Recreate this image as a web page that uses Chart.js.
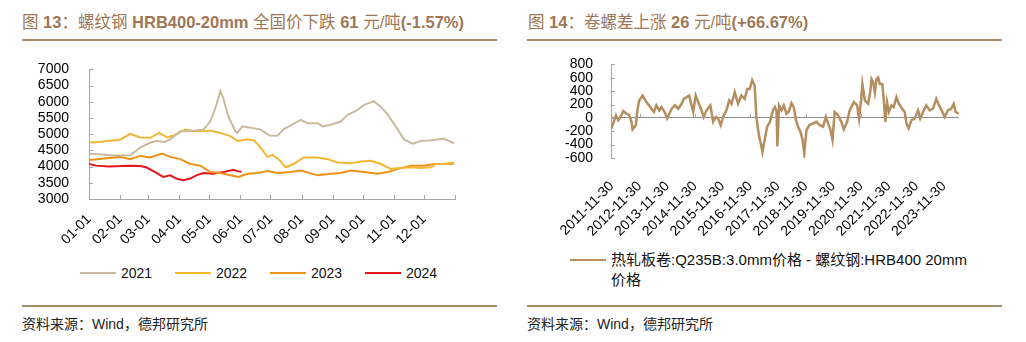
<!DOCTYPE html>
<html>
<head>
<meta charset="utf-8">
<script src="https://cdn.jsdelivr.net/npm/chart.js@4.4.1/dist/chart.umd.min.js"></script>
<style>
body{margin:0;width:1026px;height:342px;background:#fff;position:relative;overflow:hidden;
  font-family:"Liberation Sans",Arial,"Noto Sans CJK SC",sans-serif}
.title{position:absolute;top:9px;font-size:16.5px;color:#9e7756;white-space:nowrap}
.rule{position:absolute;height:2px;background:#a98b6e}
.src{position:absolute;top:313px;font-size:14px;color:#222;white-space:nowrap}
.box{position:absolute}
.lg{position:absolute;font-size:14px;color:#111;line-height:20px;white-space:nowrap}
.lg .ln{position:absolute;left:0;top:9px;width:36px;height:2px}
.lg .tx{position:absolute;left:41px;top:0}
#lg2{left:570px;top:250px;font-size:15px}
</style>
</head>
<body>
<div class="title" style="left:22px">图 <b>13</b>：螺纹钢 <b>HRB400-20mm</b> 全国价下跌 <b>61</b> 元/吨<b>(-1.57%)</b></div>
<div class="rule" style="left:22px;top:39px;width:475px"></div>
<div class="box" style="left:22px;top:49px;width:476px;height:194px"><canvas id="c1"></canvas></div>
<div id="lg1"></div>
<div class="rule" style="left:22px;top:305px;width:475px"></div>
<div class="src" style="left:22px">资料来源：Wind，德邦研究所</div>

<div class="title" style="left:528px">图 <b>14</b>：卷螺差上涨 <b>26</b> 元/吨<b>(+66.67%)</b></div>
<div class="rule" style="left:527px;top:39px;width:475px"></div>
<div class="box" style="left:527px;top:38px;width:478px;height:204px"><canvas id="c2"></canvas></div>
<div id="lg2" class="lg"><div class="ln" style="background:#b48e5e"></div><div class="tx">热轧板卷:Q235B:3.0mm价格 - 螺纹钢:HRB400 20mm<br>价格</div></div>
<div class="rule" style="left:527px;top:305px;width:475px"></div>
<div class="src" style="left:527px">资料来源：Wind，德邦研究所</div>

<script>
// Left chart data: day of year -> price (yuan/t)
const monthLabels = ['01-01', '02-01', '03-01', '04-01', '05-01', '06-01', '07-01', '08-01', '09-01', '10-01', '11-01', '12-01'];
const monthDays = [0, 31, 59, 90, 120, 151, 181, 212, 243, 273, 304, 334, 365];

const days2021 = [0, 10, 24, 41, 51, 61, 67, 75, 81, 91, 101, 110, 114, 121, 126, 131, 134, 139, 146, 148, 153, 161, 171, 180, 188, 194, 203, 211, 218, 228, 233, 241, 251, 258, 268, 274, 284, 291, 298, 308, 314, 323, 331, 341, 354, 364];
const price2021 = [4400, 4380, 4340, 4350, 4585, 4737, 4790, 4760, 4840, 5090, 5090, 5130, 5140, 5390, 5800, 6330, 6100, 5545, 5090, 5040, 5240, 5200, 5150, 4960, 4950, 5150, 5300, 5440, 5340, 5340, 5240, 5290, 5390, 5600, 5750, 5900, 6020, 5850, 5600, 5140, 4840, 4710, 4790, 4810, 4860, 4720];

const days2022 = [0, 10, 20, 31, 41, 51, 61, 70, 78, 86, 96, 105, 121, 131, 141, 148, 158, 165, 172, 178, 183, 189, 196, 204, 214, 228, 238, 248, 261, 271, 281, 291, 301, 311, 321, 331, 341, 346, 354, 364];
const price2022 = [4740, 4760, 4800, 4830, 5010, 4900, 4890, 5040, 4900, 4980, 5140, 5090, 5110, 5040, 4940, 4790, 4840, 4800, 4550, 4300, 4360, 4230, 3980, 4080, 4280, 4280, 4230, 4130, 4100, 4160, 4180, 4080, 3930, 3960, 3980, 3960, 3980, 4080, 4080, 4130];

const days2023 = [0, 18, 31, 41, 51, 61, 73, 81, 91, 101, 111, 121, 131, 141, 149, 158, 168, 178, 188, 201, 211, 228, 241, 251, 261, 274, 288, 298, 308, 321, 334, 344, 354, 364];
const price2023 = [4200, 4260, 4300, 4230, 4330, 4280, 4400, 4300, 4230, 4080, 4030, 3830, 3800, 3730, 3680, 3780, 3800, 3860, 3800, 3830, 3880, 3730, 3780, 3800, 3880, 3830, 3780, 3830, 3930, 4030, 4030, 4080, 4080, 4090];

const days2024 = [0, 7, 20, 41, 51, 57, 66, 74, 81, 87, 94, 101, 107, 114, 124, 134, 144, 148, 152];
const price2024 = [4080, 4030, 4000, 4030, 4020, 3980, 3830, 3680, 3730, 3630, 3580, 3630, 3730, 3800, 3780, 3830, 3900, 3860, 3840];

const yearNames = ['2021', '2022', '2023', '2024'];
const yearColors = ['#cbbb9e', '#f5b534', '#ee9216', '#e3151d'];

// Right chart data: decimal year -> HRC minus rebar spread (yuan/t)
const yearLabels = ['2011-11-30', '2012-11-30', '2013-11-30', '2014-11-30', '2015-11-30', '2016-11-30', '2017-11-30', '2018-11-30', '2019-11-30', '2020-11-30', '2021-11-30', '2022-11-30', '2023-11-30'];
const yearTicks = [2011.912, 2012.912, 2013.912, 2014.912, 2015.912, 2016.912, 2017.912, 2018.912, 2019.912, 2020.912, 2021.912, 2022.912, 2023.912];
const spreadX = [2011.90, 2011.96, 2012.06, 2012.14, 2012.26, 2012.32, 2012.44, 2012.54, 2012.62, 2012.66, 2012.78, 2012.83, 2012.90, 2013.02, 2013.16, 2013.34, 2013.43, 2013.52, 2013.62, 2013.70, 2013.82, 2013.91, 2014.07, 2014.19, 2014.31, 2014.43, 2014.51, 2014.61, 2014.70, 2014.79, 2014.85, 2014.94, 2015.03, 2015.15, 2015.23, 2015.33, 2015.47, 2015.57, 2015.67, 2015.75, 2015.84, 2015.93, 2016.05, 2016.15, 2016.23, 2016.35, 2016.47, 2016.59, 2016.71, 2016.80, 2016.89, 2016.98, 2017.07, 2017.13, 2017.23, 2017.29, 2017.35, 2017.43, 2017.52, 2017.62, 2017.73, 2017.80, 2017.86, 2017.89, 2017.95, 2018.04, 2018.12, 2018.22, 2018.31, 2018.40, 2018.48, 2018.56, 2018.64, 2018.72, 2018.80, 2018.86, 2018.94, 2019.04, 2019.18, 2019.30, 2019.42, 2019.54, 2019.64, 2019.72, 2019.81, 2019.88, 2019.96, 2020.08, 2020.20, 2020.29, 2020.41, 2020.50, 2020.65, 2020.77, 2020.84, 2020.92, 2020.96, 2021.05, 2021.17, 2021.25, 2021.29, 2021.35, 2021.41, 2021.47, 2021.53, 2021.59, 2021.68, 2021.73, 2021.79, 2021.85, 2021.92, 2022.01, 2022.09, 2022.19, 2022.28, 2022.40, 2022.49, 2022.55, 2022.63, 2022.73, 2022.85, 2022.97, 2023.05, 2023.18, 2023.27, 2023.39, 2023.51, 2023.63, 2023.73, 2023.85, 2023.93, 2024.05, 2024.17, 2024.26, 2024.33, 2024.44];
const spreadY = [-157, -83, 39, -34, 39, 103, 64, 39, -59, -172, -108, 113, 260, 334, 236, 137, 88, 187, 113, 162, 88, -10, 137, 187, 137, 211, 285, 309, 334, 187, 88, 334, 236, 113, 15, 113, 187, -59, 15, -10, -108, 15, 113, 260, 211, 383, 211, 334, 285, 432, 432, 565, 481, 15, -280, -378, -510, -329, -133, -59, 113, 162, 100, -427, 187, 113, 187, 64, 100, 221, 162, -34, -133, -206, -329, -535, -182, -108, -83, -59, -108, -133, 15, -83, -182, -329, 88, 39, -59, -172, -59, 113, 236, 187, -10, 285, 506, 260, 211, 408, 579, 530, 383, 579, 604, 506, 506, 285, -59, 236, 88, 187, 162, 309, 211, 137, 88, -83, -157, -34, -10, 113, -10, 113, 187, 113, 137, 285, 187, 88, 15, 113, 137, 211, 88, 64];

Chart.defaults.font.family = '"Liberation Sans", Arial, "Noto Sans CJK SC", sans-serif';
Chart.defaults.font.size = 14;
Chart.defaults.color = '#000';

const axisGray = '#a6a6a6';

// Small tick marks drawn inside the plot area, like the original
const innerTicks = {
    id: 'innerTicks',
    afterDatasetsDraw(chart, args, opts) {
        const {ctx, chartArea, scales: {x, y}} = chart;
        ctx.save();
        ctx.strokeStyle = opts.color;
        ctx.lineWidth = 1;
        ctx.beginPath();
        y.ticks.forEach(t => {
            const py = Math.round(y.getPixelForValue(t.value)) + 0.5;
            ctx.moveTo(chartArea.left, py);
            ctx.lineTo(chartArea.left + opts.len, py);
        });
        const base = opts.xAt === undefined ? chartArea.bottom : y.getPixelForValue(opts.xAt);
        x.ticks.forEach((t, i) => {
            if (opts.oddOnly && i % 2 !== 1) return;
            const px = Math.round(x.getPixelForValue(t.value)) + 0.5;
            ctx.moveTo(px, base);
            ctx.lineTo(px, base - opts.len);
        });
        ctx.stroke();
        ctx.restore();
    }
};

function pairs(xs, ys) {
    return xs.map((v, i) => ({x: v, y: ys[i]}));
}

function lineSet(label, xs, ys, color) {
    return {
        label: label,
        data: pairs(xs, ys),
        borderColor: color,
        backgroundColor: color,
        borderWidth: 2,
        pointRadius: 0,
        tension: 0
    };
}

// Left legend (HTML, one row under the chart)
const lg1 = document.getElementById('lg1');
yearNames.forEach((name, i) => {
    const item = document.createElement('div');
    item.className = 'lg';
    item.style.left = (80 + i * 95) + 'px';
    item.style.top = '263px';
    item.innerHTML = '<div class="ln" style="background:' + yearColors[i] + '"></div><div class="tx">' + name + '</div>';
    lg1.appendChild(item);
});

// Left chart: rebar price by year
new Chart(document.getElementById('c1'), {
    type: 'line',
    data: {
        datasets: [
            lineSet(yearNames[0], days2021, price2021, yearColors[0]),
            lineSet(yearNames[1], days2022, price2022, yearColors[1]),
            lineSet(yearNames[2], days2023, price2023, yearColors[2]),
            lineSet(yearNames[3], days2024, price2024, yearColors[3])
        ]
    },
    options: {
        responsive: true,
        maintainAspectRatio: false,
        animation: false,
        layout: {padding: {top: 10, right: 43, left: 0, bottom: 0}},
        plugins: {
            legend: {display: false},
            tooltip: {enabled: false},
            innerTicks: {color: axisGray, len: 4}
        },
        scales: {
            x: {
                type: 'linear',
                min: 0,
                max: 365,
                afterBuildTicks: s => { s.ticks = monthDays.map(v => ({value: v})); },
                afterFit: s => { s.height = 44; },
                grid: {display: false},
                border: {color: axisGray},
                ticks: {
                    autoSkip: false,
                    minRotation: 45,
                    maxRotation: 45,
                    padding: 4,
                    callback: (v, i) => monthLabels[i] || ''
                }
            },
            y: {
                min: 3000,
                max: 7000,
                afterFit: s => { s.width = 67; },
                grid: {display: false},
                border: {color: axisGray},
                ticks: {stepSize: 500, padding: 12, autoSkip: false, callback: v => String(v)}
            }
        }
    },
    plugins: [innerTicks]
});

// Right chart: HRC - rebar spread
new Chart(document.getElementById('c2'), {
    type: 'line',
    data: {
        datasets: [
            Object.assign(lineSet('热轧板卷:Q235B:3.0mm价格 - 螺纹钢:HRB400 20mm价格', spreadX, spreadY, '#b48e5e'), {borderWidth: 2.5})
        ]
    },
    options: {
        responsive: true,
        maintainAspectRatio: false,
        animation: false,
        layout: {padding: {top: 0, right: 46, left: 0, bottom: 0}},
        plugins: {
            legend: {display: false},
            tooltip: {enabled: false},
            innerTicks: {color: axisGray, len: 4, xAt: 0, oddOnly: true}
        },
        scales: {
            x: {
                type: 'linear',
                min: 2011.88,
                max: 2024.45,
                afterBuildTicks: s => { s.ticks = yearTicks.map(v => ({value: v})); },
                afterFit: s => { s.height = 84; },
                grid: {display: false},
                border: {display: false},
                ticks: {
                    autoSkip: false,
                    minRotation: 45,
                    maxRotation: 45,
                    padding: 12,
                    callback: (v, i) => yearLabels[i] || ''
                }
            },
            y: {
                min: -600,
                max: 800,
                afterFit: s => { s.width = 84; },
                grid: {
                    drawTicks: false,
                    color: c => (c.tick && c.tick.value === 0) ? '#8c8c8c' : 'rgba(0,0,0,0)'
                },
                border: {color: axisGray},
                ticks: {stepSize: 200, padding: 18, autoSkip: false, callback: v => String(v)}
            }
        }
    },
    plugins: [innerTicks]
});
</script>
</body>
</html>
